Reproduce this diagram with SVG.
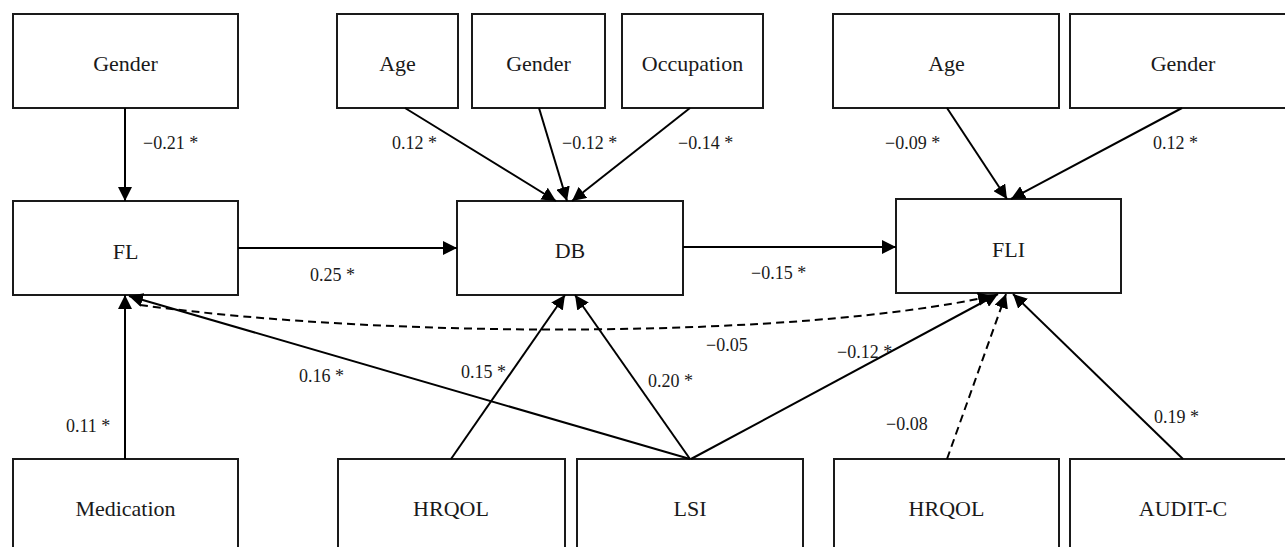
<svg xmlns="http://www.w3.org/2000/svg" width="1285" height="547" viewBox="0 0 1285 547">
<style>
.box{fill:#fff;stroke:#1a1a1a;stroke-width:2}
.nt{font-family:"Liberation Serif",serif;font-size:22px;fill:#1a1a1a;text-anchor:middle}
.lb{font-family:"Liberation Serif",serif;font-size:18px;fill:#1a1a1a}
.ln{stroke:#000;stroke-width:2;fill:none;marker-end:url(#ah)}
.ds{stroke-dasharray:8 5}
</style>
<defs>
<marker id="ah" markerUnits="userSpaceOnUse" markerWidth="14" markerHeight="14" refX="14" refY="7" orient="auto">
<path d="M0,0 L14,7 L0,14 z" fill="#000"/>
</marker>
</defs>
<rect width="1285" height="547" fill="#fff"/>
<g id="n-gender1"><rect class="box" x="13" y="14" width="225" height="94"/><text class="nt" x="125.5" y="71">Gender</text></g>
<g id="n-age1"><rect class="box" x="337" y="14" width="121" height="94"/><text class="nt" x="397.5" y="71">Age</text></g>
<g id="n-gender2"><rect class="box" x="472" y="14" width="133" height="94"/><text class="nt" x="538.5" y="71">Gender</text></g>
<g id="n-occupation"><rect class="box" x="622" y="14" width="141" height="94"/><text class="nt" x="692.5" y="71">Occupation</text></g>
<g id="n-age2"><rect class="box" x="833" y="14" width="226" height="94"/><text class="nt" x="946.5" y="71">Age</text></g>
<g id="n-gender3"><rect class="box" x="1070" y="14" width="226" height="94"/><text class="nt" x="1183" y="71">Gender</text></g>
<g id="n-fl"><rect class="box" x="13" y="201" width="225" height="94"/><text class="nt" x="125.5" y="259">FL</text></g>
<g id="n-db"><rect class="box" x="457" y="201" width="226" height="94"/><text class="nt" x="570" y="258">DB</text></g>
<g id="n-fli"><rect class="box" x="896" y="199" width="225" height="94"/><text class="nt" x="1008.5" y="257">FLI</text></g>
<g id="n-medication"><rect class="box" x="13" y="459" width="225" height="100"/><text class="nt" x="125.5" y="516">Medication</text></g>
<g id="n-hrqol1"><rect class="box" x="338" y="459" width="227" height="100"/><text class="nt" x="451" y="516">HRQOL</text></g>
<g id="n-lsi"><rect class="box" x="577" y="459" width="226" height="100"/><text class="nt" x="690" y="516">LSI</text></g>
<g id="n-hrqol2"><rect class="box" x="834" y="459" width="225" height="100"/><text class="nt" x="946.5" y="516">HRQOL</text></g>
<g id="n-auditc"><rect class="box" x="1070" y="459" width="226" height="100"/><text class="nt" x="1183" y="516">AUDIT-C</text></g>
<g id="connectors">
<line class="ln" x1="125" y1="108" x2="125" y2="201"/>
<line class="ln" x1="238" y1="248" x2="457" y2="248"/>
<line class="ln" x1="683" y1="247" x2="896" y2="247"/>
<line class="ln" x1="405" y1="108" x2="556" y2="201"/>
<line class="ln" x1="539" y1="108" x2="567" y2="201"/>
<line class="ln" x1="690" y1="108" x2="572" y2="201"/>
<line class="ln" x1="947" y1="108" x2="1007" y2="199"/>
<line class="ln" x1="1182" y1="108" x2="1011" y2="199"/>
<line class="ln" x1="125" y1="459" x2="125" y2="295"/>
<line class="ln" x1="690" y1="459" x2="129" y2="296"/>
<line class="ln" x1="451" y1="459" x2="565" y2="295"/>
<line class="ln" x1="690" y1="459" x2="575" y2="295"/>
<line class="ln" x1="691" y1="459" x2="998" y2="294"/>
<line class="ln ds" x1="947" y1="459" x2="1006" y2="294"/>
<line class="ln" x1="1183" y1="459" x2="1013" y2="294"/>
<path class="ln ds" d="M140,305 C400,340 800,338 992,296"/>
</g>
<g id="labels">
<text class="lb" x="143" y="149">−0.21 *</text>
<text class="lb" x="392" y="149">0.12 *</text>
<text class="lb" x="562" y="149">−0.12 *</text>
<text class="lb" x="678" y="149">−0.14 *</text>
<text class="lb" x="885" y="149">−0.09 *</text>
<text class="lb" x="1153" y="149">0.12 *</text>
<text class="lb" x="310" y="281">0.25 *</text>
<text class="lb" x="751" y="279">−0.15 *</text>
<text class="lb" x="299" y="382">0.16 *</text>
<text class="lb" x="461" y="378">0.15 *</text>
<text class="lb" x="648" y="387">0.20 *</text>
<text class="lb" x="706" y="351">−0.05</text>
<text class="lb" x="837" y="358">−0.12 *</text>
<text class="lb" x="66" y="432">0.11 *</text>
<text class="lb" x="886" y="430">−0.08</text>
<text class="lb" x="1154" y="423">0.19 *</text>
</g>
</svg>
